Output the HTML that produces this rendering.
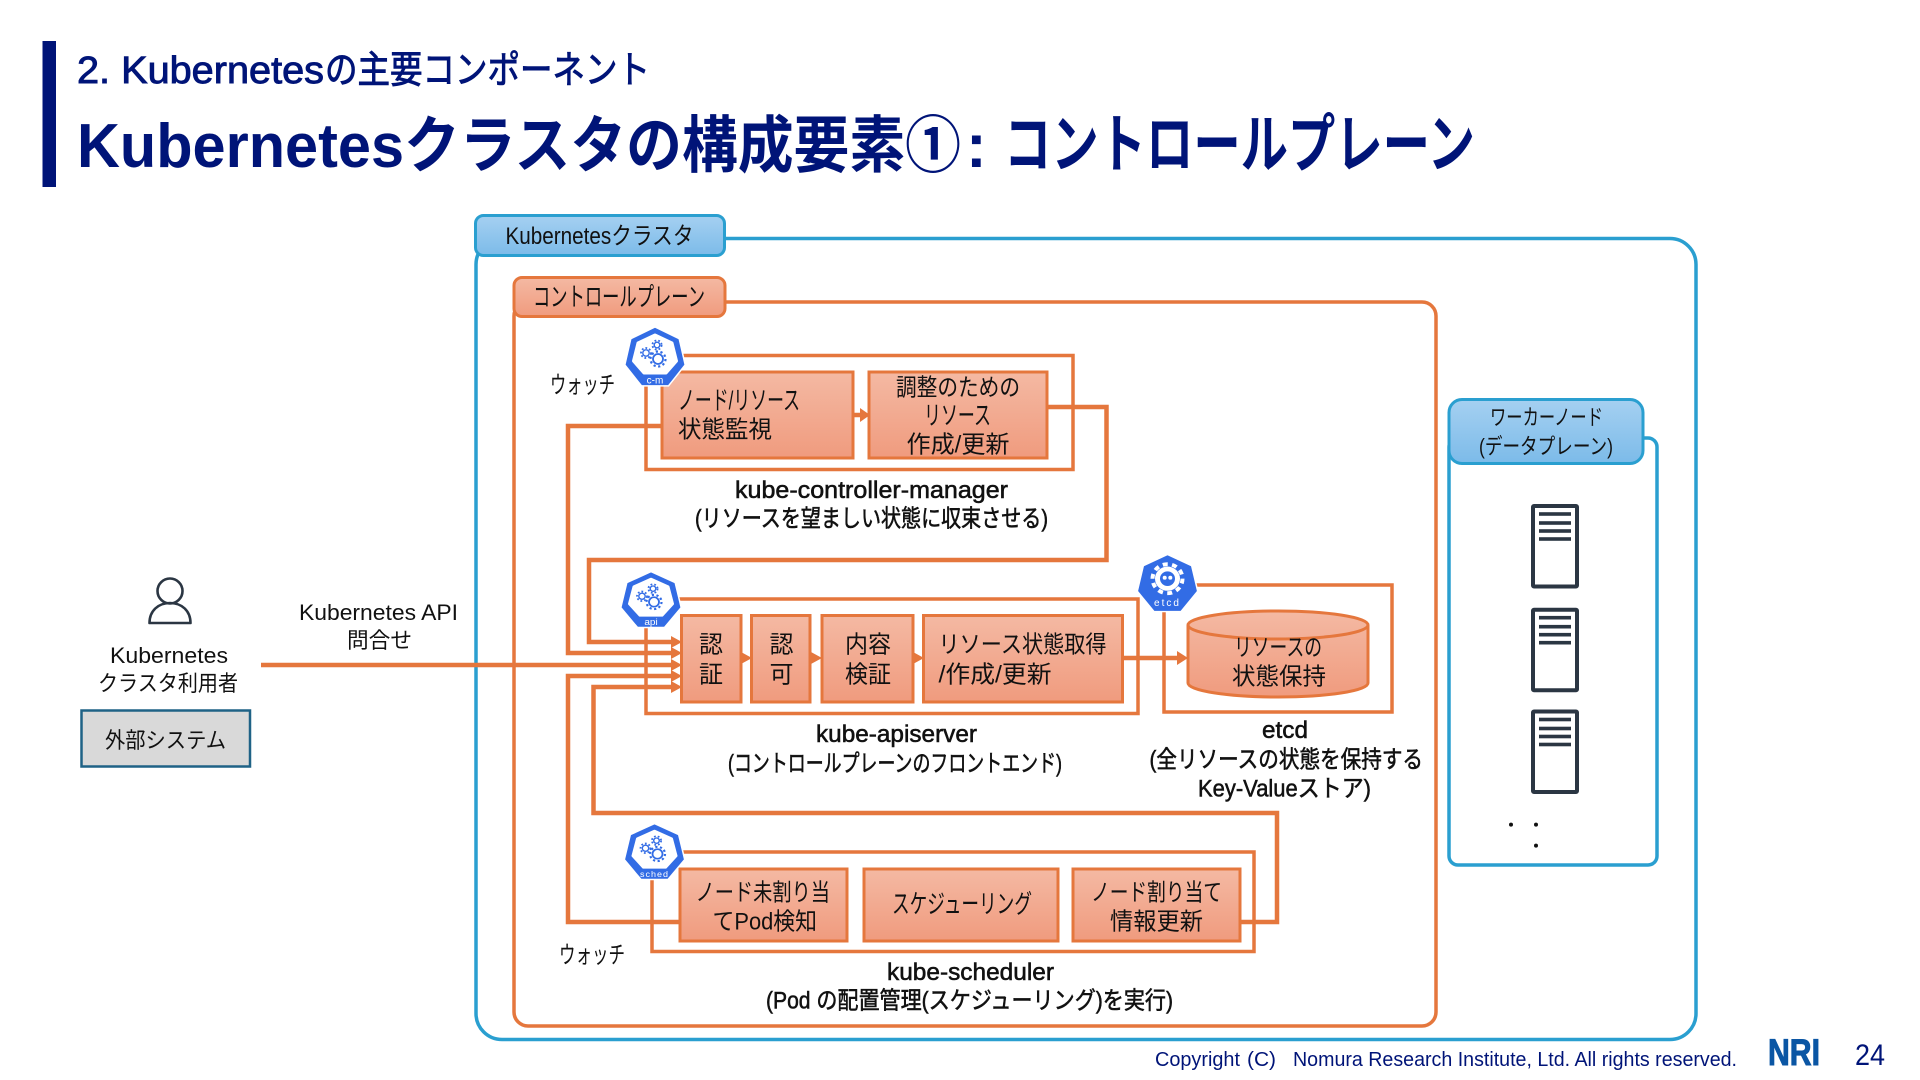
<!DOCTYPE html>
<html lang="ja">
<head>
<meta charset="utf-8">
<title>Kubernetesクラスタの構成要素①</title>
<style>
html,body{margin:0;padding:0;background:#fff;width:1920px;height:1080px;overflow:hidden}
svg{display:block}
text{font-family:"Liberation Sans","Noto Sans CJK JP",sans-serif;fill:#111;white-space:pre}
.b{font-size:24px}
.k{font-size:26px}
.m{font-size:24px;stroke:#111;stroke-width:.55px}
.s{font-size:22px}
.w{fill:#fff;font-size:10px;text-anchor:middle}
.f{fill:none;stroke:#e5773d;stroke-width:3.5}
.l{fill:none;stroke:#e5773d;stroke-width:4.5}
.n{fill:url(#og);stroke:#e5773d;stroke-width:3}
.bl{fill:none;stroke:#2a9fd0;stroke-width:3.5}
.sv{fill:#fff;stroke:#2b3643;stroke-width:4}
.a{fill:#e5773d}
.t{fill:#001478}
</style>
</head>
<body>
<svg width="1920" height="1080" viewBox="0 0 1920 1080" xmlns="http://www.w3.org/2000/svg">
<defs>
<linearGradient id="og" x1="0" y1="0" x2="0" y2="1"><stop offset="0" stop-color="#f4b9a3"/><stop offset="1" stop-color="#f09b7e"/></linearGradient>
<linearGradient id="bg" x1="0" y1="0" x2="0" y2="1"><stop offset="0" stop-color="#a5d0f1"/><stop offset="1" stop-color="#7cbbe9"/></linearGradient>
<polygon id="hep" points="0,-31 24.2,-19.3 30.2,6.900 13.5,27.900 -13.5,27.900 -30.2,6.900 -24.2,-19.3" fill="#326ce5" stroke="#fff" stroke-width="1.500" stroke-linejoin="round"/>
<g id="inner">
<polygon points="0,-23 17,-15 21.500,3 11,15 -11,15 -21.500,3 -17,-15" fill="#fff" stroke="#fff" stroke-width="3" stroke-linejoin="round"/>
<g fill="none" stroke="#326ce5">
<circle cx="3" cy="1" r="5" stroke-width="1.800"/><circle cx="3" cy="1" r="7.500" stroke-width="2.200" stroke-dasharray="2.200 2.500"/>
<circle cx="-9" cy="-5" r="3.200" stroke-width="1.400"/><circle cx="-9" cy="-5" r="5" stroke-width="1.800" stroke-dasharray="1.800 2"/>
<circle cx="2" cy="-13" r="2.800" stroke-width="1.400"/><circle cx="2" cy="-13" r="4.600" stroke-width="1.800" stroke-dasharray="1.800 2"/>
</g>
</g>
<g id="srv">
<rect x="1533" y="0" width="44" height="80.500" class="sv" rx="1"/>
<rect x="1539" y="6.200" width="32" height="3.600" fill="#2b3643"/>
<rect x="1539" y="15.200" width="32" height="3.600" fill="#2b3643"/>
<rect x="1539" y="23.200" width="32" height="3.600" fill="#2b3643"/>
<rect x="1539" y="31.200" width="32" height="3.600" fill="#2b3643"/>
</g>
</defs>

<!-- Header -->
<rect x="42.500" y="41" width="13.500" height="146" class="t"/>
<text x="77" y="83" font-size="38" class="t" style="stroke:#001478;stroke-width:.9px" textLength="247" lengthAdjust="spacingAndGlyphs">2. Kubernetes</text>
<text x="325" y="83" font-size="38" class="t" style="stroke:#001478;stroke-width:.9px" textLength="325" lengthAdjust="spacingAndGlyphs">の主要コンポーネント</text>
<text x="77" y="167" font-size="62" font-weight="700" class="t" textLength="327" lengthAdjust="spacingAndGlyphs">Kubernetes</text>
<text x="404" y="167" font-size="62" font-weight="700" class="t" textLength="557" lengthAdjust="spacingAndGlyphs">クラスタの構成要素①</text>
<text x="966" y="167" font-size="62" font-weight="700" class="t">:</text>
<text x="1004" y="167" font-size="64" font-weight="700" class="t" textLength="471" lengthAdjust="spacingAndGlyphs">コントロールプレーン</text>

<!-- Cluster -->
<rect x="476" y="238.500" width="1220" height="801" rx="26" class="bl"/>
<rect x="475.500" y="215.500" width="249" height="40" rx="8" fill="url(#bg)" stroke="#2a9fd0" stroke-width="3"/>
<text x="505.500" y="244" class="b" textLength="188" lengthAdjust="spacingAndGlyphs">Kubernetesクラスタ</text>

<!-- Control plane -->
<rect x="514" y="302" width="922" height="724" rx="14" fill="none" stroke="#e5773d" stroke-width="3.500"/>
<rect x="514" y="277.500" width="211" height="39" rx="8" fill="url(#og)" stroke="#e5773d" stroke-width="3"/>
<text x="533" y="306" class="k" textLength="172" lengthAdjust="spacingAndGlyphs">コントロールプレーン</text>

<!-- Component frames -->
<rect x="646" y="355.500" width="427" height="114" class="f"/>
<rect x="646" y="599" width="492" height="114.500" class="f"/>
<rect x="1164" y="585" width="228" height="127" class="f"/>
<rect x="652" y="852" width="602" height="99.500" class="f"/>

<!-- Connectors -->
<polyline class="l" points="1047,407 1106.500,407 1106.500,560 589,560 589,642 674,642"/>
<polyline class="l" points="662,426 568,426 568,653 674,653"/>
<polyline class="l" points="261,665 674,665"/>
<polyline class="l" points="680,922 568,922 568,676 674,676"/>
<polyline class="l" points="1240,922 1277,922 1277,813 593.500,813 593.500,687 674,687"/>
<polyline class="l" points="1122,658 1178,658"/>
<polyline class="l" points="851,415 861,415"/>
<!-- Arrowheads -->
<polygon class="a" points="671,636 682,642 671,648"/>
<polygon class="a" points="671,647 682,653 671,659"/>
<polygon class="a" points="671,659 682,665 671,671"/>
<polygon class="a" points="671,670 682,676 671,682"/>
<polygon class="a" points="671,681 682,687 671,693"/>
<polygon class="a" points="860,408 870,415 860,422"/>
<polygon class="a" points="741,652 752,658 741,664"/>
<polygon class="a" points="811,652 822,658 811,664"/>
<polygon class="a" points="913,652 924,658 913,664"/>
<polygon class="a" points="1177,651 1188,658 1177,665"/>

<!-- Controller manager -->
<rect x="662" y="372" width="191" height="86" class="n"/>
<rect x="869" y="372" width="178" height="86" class="n"/>
<text x="678" y="409.500" class="k" textLength="122" lengthAdjust="spacingAndGlyphs">ノード/リソース</text>
<text x="678" y="437.500" class="b" textLength="94" lengthAdjust="spacingAndGlyphs">状態監視</text>
<text x="896" y="395.500" class="b" textLength="124" lengthAdjust="spacingAndGlyphs">調整のための</text>
<text x="924" y="424.500" class="k" textLength="67" lengthAdjust="spacingAndGlyphs">リソース</text>
<text x="906.500" y="452.500" class="b" textLength="103" lengthAdjust="spacingAndGlyphs">作成/更新</text>
<text x="735" y="498" class="m" textLength="273" lengthAdjust="spacingAndGlyphs">kube-controller-manager</text>
<text x="695" y="526.500" class="m" textLength="353" lengthAdjust="spacingAndGlyphs">(リソースを望ましい状態に収束させる)</text>
<text x="550" y="393" class="b" textLength="65" lengthAdjust="spacingAndGlyphs">ウォッチ</text>

<!-- API server -->
<rect x="681.500" y="615.500" width="59.500" height="86.500" class="n"/>
<rect x="751.500" y="615.500" width="58.500" height="86.500" class="n"/>
<rect x="822" y="615.500" width="91" height="86.500" class="n"/>
<rect x="923.500" y="615.500" width="199" height="86.500" class="n"/>
<text x="699" y="652.500" class="b">認</text><text x="699" y="682.500" class="b">証</text>
<text x="769.500" y="652.500" class="b">認</text><text x="769.500" y="682.500" class="b">可</text>
<text x="845" y="652.500" class="b" textLength="46" lengthAdjust="spacingAndGlyphs">内容</text>
<text x="845" y="682.500" class="b" textLength="46" lengthAdjust="spacingAndGlyphs">検証</text>
<text x="938.500" y="652.500" class="b" textLength="168" lengthAdjust="spacingAndGlyphs">リソース状態取得</text>
<text x="938.500" y="682.500" class="b" textLength="113" lengthAdjust="spacingAndGlyphs">/作成/更新</text>
<text x="816" y="742" class="m" textLength="161" lengthAdjust="spacingAndGlyphs">kube-apiserver</text>
<text x="728" y="771.500" class="m" textLength="334" lengthAdjust="spacingAndGlyphs">(コントロールプレーンのフロントエンド)</text>

<!-- etcd -->
<path d="M1188,625 V683 A90,14 0 0 0 1368,683 V625 A90,14 0 0 0 1188,625 Z" fill="url(#og)" stroke="#e5773d" stroke-width="3"/>
<path d="M1188,625 A90,14 0 0 0 1368,625" fill="none" stroke="#e5773d" stroke-width="3"/>
<text x="1234" y="655.500" class="b" textLength="88" lengthAdjust="spacingAndGlyphs">リソースの</text>
<text x="1232" y="684.500" class="b" textLength="94" lengthAdjust="spacingAndGlyphs">状態保持</text>
<text x="1262" y="738" class="m" textLength="46" lengthAdjust="spacingAndGlyphs">etcd</text>
<text x="1149.500" y="767.500" class="m" textLength="273.500" lengthAdjust="spacingAndGlyphs">(全リソースの状態を保持する</text>
<text x="1198" y="796.500" class="m" textLength="173" lengthAdjust="spacingAndGlyphs">Key-Valueストア)</text>

<!-- Scheduler -->
<rect x="680" y="869" width="167" height="72" class="n"/>
<rect x="864" y="869" width="194" height="72" class="n"/>
<rect x="1073" y="869" width="167" height="72" class="n"/>
<text x="695.500" y="900.500" class="b" textLength="134.500" lengthAdjust="spacingAndGlyphs">ノード未割り当</text>
<text x="712.500" y="929.500" class="b" textLength="104.500" lengthAdjust="spacingAndGlyphs">てPod検知</text>
<text x="892" y="913" class="k" textLength="140" lengthAdjust="spacingAndGlyphs">スケジューリング</text>
<text x="1091" y="900.500" class="b" textLength="131" lengthAdjust="spacingAndGlyphs">ノード割り当て</text>
<text x="1110" y="929.500" class="b" textLength="93" lengthAdjust="spacingAndGlyphs">情報更新</text>
<text x="887" y="980" class="m" textLength="167" lengthAdjust="spacingAndGlyphs">kube-scheduler</text>
<text x="766" y="1008.500" class="m" textLength="407" lengthAdjust="spacingAndGlyphs">(Pod の配置管理(スケジューリング)を実行)</text>
<text x="559" y="963" class="b" textLength="66" lengthAdjust="spacingAndGlyphs">ウォッチ</text>

<!-- Icons -->
<g transform="translate(655,358)"><use href="#hep"/><use href="#inner"/><text class="w" y="25.500">c-m</text></g>
<g transform="translate(651,601) scale(1,.95)"><use href="#hep"/><use href="#inner"/><text class="w" y="25.500">api</text></g>
<g transform="translate(654.500,853) scale(1,.95)"><use href="#hep"/><use href="#inner"/><text class="w" y="25.500" style="font-size:9px;letter-spacing:1px">sched</text></g>
<g transform="translate(1167.500,584.500) scale(1,.97)"><use href="#hep"/>
<circle cx="0" cy="-6" r="12.500" fill="#fff"/>
<circle cx="0" cy="-6" r="15" fill="none" stroke="#fff" stroke-width="4" stroke-dasharray="5 4.400"/>
<circle cx="0" cy="-6" r="7.500" fill="#326ce5"/>
<circle cx="-2.800" cy="-7" r="2" fill="#fff"/><circle cx="2.800" cy="-7" r="2" fill="#fff"/>
<text class="w" y="22" style="letter-spacing:2px">etcd</text></g>

<!-- Left -->
<circle cx="170" cy="591" r="12.500" fill="none" stroke="#2b3643" stroke-width="2.600"/>
<path d="M149.500,623 C149.500,611 158,603 170,603 C182,603 190.500,611 190.500,623 Z" fill="none" stroke="#2b3643" stroke-width="2.600" stroke-linejoin="round"/>
<text x="110" y="663" class="s" textLength="118" lengthAdjust="spacingAndGlyphs">Kubernetes</text>
<text x="98" y="691" class="s" textLength="140" lengthAdjust="spacingAndGlyphs">クラスタ利用者</text>
<rect x="81.500" y="710.500" width="168.500" height="56" fill="#d9d9d9" stroke="#1f6286" stroke-width="2.500"/>
<text x="105" y="748" class="s" textLength="121" lengthAdjust="spacingAndGlyphs">外部システム</text>
<text x="299" y="620" class="s" textLength="159" lengthAdjust="spacingAndGlyphs">Kubernetes API</text>
<text x="347" y="648" class="s" textLength="65" lengthAdjust="spacingAndGlyphs">問合せ</text>

<!-- Worker -->
<rect x="1449" y="438" width="208" height="427" rx="9" class="bl"/>
<rect x="1449" y="399.500" width="194" height="64" rx="13" fill="url(#bg)" stroke="#2a9fd0" stroke-width="3"/>
<text x="1490" y="425" class="s" textLength="113" lengthAdjust="spacingAndGlyphs">ワーカーノード</text>
<text x="1479" y="454" class="s" textLength="134" lengthAdjust="spacingAndGlyphs">(データプレーン)</text>
<use href="#srv" y="506"/>
<use href="#srv" y="609.700"/>
<use href="#srv" y="711.500"/>
<circle cx="1511" cy="824.600" r="2" fill="#111"/>
<circle cx="1536" cy="824.600" r="2" fill="#111"/>
<circle cx="1536" cy="845.600" r="2" fill="#111"/>

<!-- Footer -->
<text x="1155" y="1066" font-size="20" class="t" textLength="85" lengthAdjust="spacingAndGlyphs">Copyright</text>
<text x="1247" y="1066" font-size="20" class="t" textLength="29" lengthAdjust="spacingAndGlyphs">(C)</text>
<text x="1293" y="1066" font-size="20" class="t" textLength="444" lengthAdjust="spacingAndGlyphs">Nomura Research Institute, Ltd. All rights reserved.</text>
<text x="1768" y="1065" font-size="37" font-weight="700" style="fill:#0b56a4;stroke:#0b56a4;stroke-width:1px" textLength="52" lengthAdjust="spacingAndGlyphs">NRI</text>
<text x="1855" y="1065" font-size="30" class="t" textLength="30" lengthAdjust="spacingAndGlyphs">24</text>
</svg>
</body>
</html>
